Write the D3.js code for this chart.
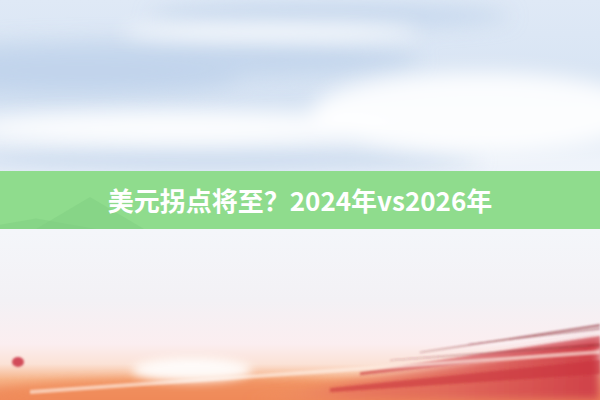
<!DOCTYPE html>
<html>
<head>
<meta charset="utf-8">
<script src="https://cdn.jsdelivr.net/npm/d3@7"></script>
<style>
  html, body { margin: 0; padding: 0; background: #fff; }
  svg { display: block; }
</style>
</head>
<body>
<div id="banner"></div>
<script>
// banner text
const title = "美元拐点将至？2024年vs2026年";

// sky streaks: [x, y, rx, ry] in 0..1 of the picture
const skyStreaks = [
  [0.25, 0.15, 0.45, 0.05],
  [0.10, 0.20, 0.30, 0.04],
  [0.55, 0.04, 0.30, 0.03],
  [0.35, 0.40, 0.45, 0.03]
];
const skyLights = [
  [0.80, 0.28, 0.28, 0.10],
  [0.45, 0.08, 0.25, 0.02],
  [0.30, 0.32, 0.35, 0.04]
];

// faint hills inside the band: peak x, peak y, half width (0..1)
const hills = [
  [0.06, 0.82, 0.10],
  [0.15, 0.45, 0.09]
];

// red brush strokes at the bottom right: x0, y0, x1, y1, thickness
const brushStrokes = [
  [0.60, 0.93, 1.00, 0.84, 0.030],
  [0.55, 0.97, 1.00, 0.90, 0.035],
  [0.70, 0.88, 1.00, 0.81, 0.006],
  [0.78, 0.86, 1.00, 0.82, 0.004],
  [0.65, 0.90, 1.00, 0.86, 0.004]
];

const width = 600, height = 400;
const x = d3.scaleLinear().domain([0, 1]).range([0, width]);
const y = d3.scaleLinear().domain([0, 1]).range([0, height]);

const svg = d3.select("#banner")
  .append("svg")
    .attr("width", width)
    .attr("height", height);

const defs = svg.append("defs");

// main background gradient
const bg = defs.append("linearGradient")
    .attr("id", "bg")
    .attr("x1", 0).attr("y1", 0).attr("x2", 0).attr("y2", 1);
[["0", "#dfe9f6"], ["0.25", "#d6e3f3"], ["0.40", "#eef3fa"], ["0.58", "#f4f6fa"],
 ["0.75", "#f3f1f5"], ["0.86", "#fbeef0"], ["0.91", "#fbe2d6"], ["0.95", "#f6b286"], ["1", "#ef8a5c"]]
  .forEach(s => bg.append("stop").attr("offset", s[0]).attr("stop-color", s[1]));

// red fade from right
const redFade = defs.append("linearGradient")
    .attr("id", "redFade")
    .attr("x1", 0).attr("y1", 0).attr("x2", 1).attr("y2", 0);
[["0", "#f0a070", 0], ["0.3", "#e87660", 0.8], ["1", "#cf3f48", 1]]
  .forEach(s => redFade.append("stop").attr("offset", s[0])
    .attr("stop-color", s[1]).attr("stop-opacity", s[2]));

defs.append("filter").attr("id", "blur")
  .attr("x", "-50%").attr("y", "-50%").attr("width", "200%").attr("height", "200%")
  .append("feGaussianBlur").attr("stdDeviation", 10);
defs.append("filter").attr("id", "blurMid")
  .attr("x", "-50%").attr("y", "-50%").attr("width", "200%").attr("height", "200%")
  .append("feGaussianBlur").attr("stdDeviation", 5);
defs.append("filter").attr("id", "blurSmall")
  .attr("x", "-20%").attr("y", "-50%").attr("width", "140%").attr("height", "200%")
  .append("feGaussianBlur").attr("stdDeviation", 1.2);

svg.append("rect")
    .attr("width", width)
    .attr("height", height)
    .attr("fill", "url(#bg)");

// blue cloud streaks
svg.append("g").attr("filter", "url(#blur)")
  .selectAll("ellipse")
  .data(skyStreaks)
  .join("ellipse")
    .attr("cx", d => x(d[0]))
    .attr("cy", d => y(d[1]))
    .attr("rx", d => x(d[2]))
    .attr("ry", d => y(d[3]))
    .attr("fill", "#bcd0ea")
    .attr("opacity", 0.7);

// bright patches
svg.append("g").attr("filter", "url(#blur)")
  .selectAll("ellipse")
  .data(skyLights)
  .join("ellipse")
    .attr("cx", d => x(d[0]))
    .attr("cy", d => y(d[1]))
    .attr("rx", d => x(d[2]))
    .attr("ry", d => y(d[3]))
    .attr("fill", "#ffffff")
    .attr("opacity", 0.9);

// warm orange floor
svg.append("ellipse")
    .attr("cx", x(0.35))
    .attr("cy", y(0.99))
    .attr("rx", x(0.38))
    .attr("ry", y(0.045))
    .attr("fill", "#f08a58")
    .attr("opacity", 0.8)
    .attr("filter", "url(#blurMid)");

// red on the right
svg.append("path")
    .attr("d", `M${x(0.40)},${y(1)} L${x(1)},${y(0.85)} L${x(1)},${y(1)} Z`)
    .attr("fill", "url(#redFade)")
    .attr("filter", "url(#blurMid)");

svg.append("g").attr("filter", "url(#blurSmall)")
  .selectAll("path")
  .data(brushStrokes)
  .join("path")
    .attr("d", d => `M${x(d[0])},${y(d[1])} L${x(d[2])},${y(d[3])}
                     L${x(d[2])},${y(d[3] + d[4])} L${x(d[0])},${y(d[1] + d[4] * 0.3)} Z`)
    .attr("fill", (d, i) => i < 2 ? "#c8323c" : "#8a2a30")
    .attr("opacity", (d, i) => i < 2 ? 0.55 : 0.6);

// white light streak between the red strokes
svg.append("path")
    .attr("d", `M${x(0.05)},${y(0.975)} L${x(1)},${y(0.875)} L${x(1)},${y(0.885)} L${x(0.05)},${y(0.985)} Z`)
    .attr("fill", "#fff4ec")
    .attr("opacity", 0.6)
    .attr("filter", "url(#blurSmall)");

// glow in the middle
svg.append("ellipse")
    .attr("cx", x(0.32))
    .attr("cy", y(0.925))
    .attr("rx", x(0.10))
    .attr("ry", y(0.03))
    .attr("fill", "#ffffff")
    .attr("opacity", 0.9)
    .attr("filter", "url(#blurMid)");

// small red splash at left
svg.append("ellipse")
    .attr("cx", x(0.03))
    .attr("cy", y(0.905))
    .attr("rx", 6).attr("ry", 5)
    .attr("fill", "#c8283a")
    .attr("opacity", 0.8)
    .attr("filter", "url(#blurSmall)");

// green band
const bandTop = 171, bandH = 58;
svg.append("rect")
    .attr("x", 0)
    .attr("y", bandTop)
    .attr("width", width)
    .attr("height", bandH)
    .attr("fill", "#8fdc8d");

svg.append("g")
  .selectAll("path")
  .data(hills)
  .join("path")
    .attr("d", d => `M${x(d[0] - d[2])},${bandTop + bandH} L${x(d[0])},${bandTop + bandH * d[1]}
                     L${x(d[0] + d[2])},${bandTop + bandH} Z`)
    .attr("fill", "#7fcc80")
    .attr("opacity", 0.45);

svg.append("text")
    .attr("x", width / 2)
    .attr("y", 211)
    .attr("text-anchor", "middle")
    .attr("font-family", "'Noto Sans CJK SC', sans-serif")
    .attr("font-weight", 700)
    .attr("font-size", "26px")
    .attr("fill", "#ffffff")
    .text(title);
</script>
</body>
</html>
